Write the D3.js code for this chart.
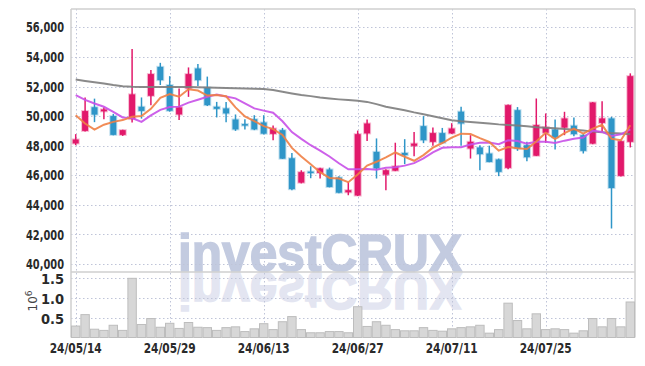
<!DOCTYPE html>
<html>
<head>
<meta charset="utf-8">
<script src="https://cdn.jsdelivr.net/npm/d3@7"></script>
<style>
  body { margin: 0; background: #fff; }
  .axis text { font-family: "DejaVu Sans Condensed", "Liberation Sans Narrow", sans-serif; font-stretch: condensed; font-size: 14.5px; font-weight: bold; fill: #2a2a2a; }
</style>
</head>
<body>
<script>
// trading days shown on the chart
const dates = [
  "2024-05-14", "2024-05-16", "2024-05-17", "2024-05-20", "2024-05-21", "2024-05-22", "2024-05-23", "2024-05-24", "2024-05-27", "2024-05-28",
  "2024-05-29", "2024-05-30", "2024-05-31", "2024-06-03", "2024-06-04", "2024-06-05", "2024-06-07", "2024-06-10", "2024-06-11", "2024-06-12",
  "2024-06-13", "2024-06-14", "2024-06-17", "2024-06-18", "2024-06-19", "2024-06-20", "2024-06-21", "2024-06-24", "2024-06-25", "2024-06-26",
  "2024-06-27", "2024-06-28", "2024-07-01", "2024-07-02", "2024-07-03", "2024-07-04", "2024-07-05", "2024-07-08", "2024-07-09", "2024-07-10",
  "2024-07-11", "2024-07-12", "2024-07-15", "2024-07-16", "2024-07-17", "2024-07-18", "2024-07-19", "2024-07-22", "2024-07-23", "2024-07-24",
  "2024-07-25", "2024-07-26", "2024-07-29", "2024-07-30", "2024-07-31", "2024-08-01", "2024-08-02", "2024-08-05", "2024-08-06", "2024-08-07"
];

const openPrices = [48150, 49000, 50600, 50320, 50000, 48730, 49800, 50630, 51370, 53330,
  52100, 50110, 51870, 53220, 51930, 50630, 50520, 49770, 49460, 49790,
  49570, 48800, 49050, 47150, 45500, 46250, 46160, 46390, 45850, 44850,
  44630, 48830, 47580, 46040, 46310, 47510, 47990, 49320, 48260, 48850,
  48830, 50300, 47810, 47880, 47470, 47070, 46500, 50400, 48030, 47320,
  48870, 49100, 49220, 49350, 48710, 48140, 49540, 49840, 45960, 48260];

const highPrices = [48780, 51260, 51180, 50590, 50150, 49080, 54530, 51260, 53110, 53600,
  52700, 51870, 53290, 53520, 52670, 50960, 50960, 50110, 49790, 50060,
  50060, 49370, 49200, 47510, 46340, 46610, 46500, 46520, 45940, 45550,
  49020, 49770, 48490, 46410, 48200, 48440, 48930, 50000, 49230, 49200,
  49520, 50630, 48710, 48030, 48000, 47130, 50780, 50610, 48270, 51190,
  50180, 49770, 50290, 49910, 48780, 50950, 51010, 49950, 48330, 52890];

const lowPrices = [48030, 48950, 49590, 49790, 48700, 48660, 49570, 49830, 50740, 52100,
  50300, 49730, 51300, 52030, 50680, 49910, 49590, 49000, 49100, 49050,
  48760, 48370, 47100, 44990, 45450, 45800, 45780, 45180, 44790, 44650,
  44600, 48320, 45780, 44990, 46280, 46750, 47290, 48170, 48000, 48150,
  48800, 48000, 47130, 46340, 46880, 45940, 46400, 47650, 46950, 47300,
  48190, 47740, 48710, 48640, 47470, 48100, 48930, 42400, 45920, 47880];

const closePrices = [48420, 50340, 50100, 50450, 48730, 49050, 51470, 50350, 52840, 52430,
  50360, 50590, 52840, 52430, 50740, 50490, 50180, 49100, 49410, 49100,
  48810, 49160, 47120, 45060, 46210, 46180, 46460, 45210, 44820, 44990,
  48780, 49500, 46460, 46340, 46610, 47360, 48140, 48370, 48850, 48190,
  49160, 49500, 48260, 47430, 46900, 46230, 50740, 47810, 47220, 49390,
  49250, 48560, 49840, 48780, 47650, 50920, 49840, 45140, 48300, 52700];

const volumes = [290000, 580000, 210000, 180000, 310000, 180000, 1500000, 330000, 480000, 260000,
  360000, 230000, 380000, 260000, 250000, 180000, 250000, 270000, 150000, 220000,
  350000, 200000, 400000, 530000, 200000, 120000, 120000, 150000, 150000, 120000,
  780000, 280000, 400000, 310000, 200000, 170000, 170000, 250000, 180000, 160000,
  220000, 250000, 270000, 310000, 110000, 200000, 870000, 430000, 220000, 600000,
  200000, 220000, 200000, 110000, 170000, 480000, 270000, 480000, 270000, 900000];

// moving averages (short, mid, long)
const maShort = [50050, 49500, 49080, 49420, 49610, 49730, 49960, 50010, 50490, 51230,
  51490, 51310, 51810, 51730, 51390, 51420, 51340, 50590, 49980, 49660,
  49320, 49120, 48720, 47850, 47270, 46750, 46210, 45820, 45780, 45530,
  46050, 46660, 46910, 47210, 47540, 47250, 46980, 47360, 47870, 48180,
  48540, 48810, 48790, 48510, 48250, 47660, 47910, 47820, 47780, 48280,
  48880, 48450, 48850, 49160, 48820, 49150, 49410, 48470, 48370, 49380];

const maMid = [51420, 51100, 50850, 50630, 50290, 49910, 49870, 49610, 50050, 50420,
  50610, 50640, 50910, 51110, 51310, 51450, 51330, 51200, 50860, 50520,
  50370, 50230, 49650, 48920, 48460, 48030, 47660, 47270, 46810, 46400,
  46400, 46430, 46370, 46500, 46540, 46650, 46820, 47140, 47540, 47860,
  47900, 47900, 48080, 48190, 48220, 48100, 48360, 48310, 48140, 48260,
  48270, 48180, 48340, 48470, 48550, 49020, 48930, 48660, 48770, 49100];

const maLong = [52480, 52380, 52290, 52200, 52100, 52020, 51980, 51970, 51970, 51970,
  51970, 51970, 51960, 51950, 51940, 51920, 51900, 51880, 51870, 51850,
  51830, 51760, 51640, 51530, 51420, 51350, 51260, 51190, 51130, 51080,
  51030, 50960, 50810, 50630, 50520, 50400, 50250, 50120, 49990, 49860,
  49720, 49650, 49600, 49550, 49500, 49440, 49400, 49360, 49320, 49250,
  49210, 49170, 49130, 49080, 49020, 48950, 48900, 48850, 48820, 48780];

const priceTicks = [40000, 42000, 44000, 46000, 48000, 50000, 52000, 54000, 56000];
const volumeTicks = [500000, 1000000, 1500000];
const dateTicks = dates.filter((d, i) => i % 10 === 0);

document.addEventListener("DOMContentLoaded", function () {
  const width = 645;
  const height = 366;
  const left = 71, right = 635, top = 9, priceBottom = 272, volBottom = 337.5;

  const upColor = "#e2196b";
  const downColor = "#2f96c8";
  const gridColor = "#bfc4d8";

  const svg = d3.select("body")
    .append("svg")
    .attr("width", width)
    .attr("height", height);

  const x = d3.scaleBand().domain(dates).range([left, right]);
  const cx = d => x(d) + x.bandwidth() / 2;
  const y = d3.scaleLinear().domain([39460, 57240]).range([priceBottom, top]);
  const yv = d3.scaleLinear().domain([0, 1660000]).range([volBottom, priceBottom]);

  // watermark + reflection
  const wm = svg.append("g");
  wm.append("text")
    .attr("x", 178)
    .attr("y", 271)
    .attr("font-family", "Liberation Sans, Arial, sans-serif")
    .attr("font-weight", "bold")
    .attr("font-size", 51)
    .attr("textLength", 284)
    .attr("lengthAdjust", "spacingAndGlyphs")
    .attr("fill", "#c3cbe0")
    .attr("stroke", "#c3cbe0")
    .attr("stroke-width", 1.5)
    .text("investCRUX");
  wm.append("text")
    .attr("x", 178)
    .attr("y", 271)
    .attr("transform", `translate(0,${priceBottom * 2}) scale(1,-1)`)
    .attr("font-family", "Liberation Sans, Arial, sans-serif")
    .attr("font-weight", "bold")
    .attr("font-size", 51)
    .attr("textLength", 284)
    .attr("lengthAdjust", "spacingAndGlyphs")
    .attr("fill", "#e3e5f1")
    .attr("stroke", "#e3e5f1")
    .attr("stroke-width", 1.5)
    .text("investCRUX");

  // grid
  const grid = svg.append("g")
    .attr("stroke", gridColor)
    .attr("stroke-width", 1)
    .attr("stroke-dasharray", "1.5,2.5");

  grid.selectAll(".vgrid")
    .data(dateTicks)
    .enter()
    .append("line")
    .attr("x1", d => Math.round(cx(d)) + 0.5)
    .attr("x2", d => Math.round(cx(d)) + 0.5)
    .attr("y1", top)
    .attr("y2", volBottom);

  grid.selectAll(".hgrid")
    .data(priceTicks)
    .enter()
    .append("line")
    .attr("x1", left)
    .attr("x2", right)
    .attr("y1", d => Math.round(y(d)) + 0.5)
    .attr("y2", d => Math.round(y(d)) + 0.5);

  grid.selectAll(".vhgrid")
    .data(volumeTicks)
    .enter()
    .append("line")
    .attr("x1", left)
    .attr("x2", right)
    .attr("y1", d => Math.round(yv(d)) + 0.5)
    .attr("y2", d => Math.round(yv(d)) + 0.5);

  // frame
  const frame = svg.append("g").attr("stroke", "#cfcfcf").attr("stroke-width", 1.5);
  frame.append("line").attr("x1", left).attr("x2", right).attr("y1", top).attr("y2", top);
  frame.append("line").attr("x1", left).attr("x2", left).attr("y1", top).attr("y2", volBottom);
  frame.append("line").attr("x1", right).attr("x2", right).attr("y1", top).attr("y2", volBottom);
  frame.append("line").attr("x1", left).attr("x2", right).attr("y1", priceBottom).attr("y2", priceBottom);

  // volume bars
  svg.append("g")
    .selectAll("rect")
    .data(volumes)
    .enter()
    .append("rect")
    .attr("x", (d, i) => x(dates[i]) + 0.5)
    .attr("width", x.bandwidth() - 1)
    .attr("y", d => yv(d))
    .attr("height", d => volBottom - yv(d))
    .attr("fill", "#d7d7d7")
    .attr("stroke", "#bdbdbd")
    .attr("stroke-width", 1);

  // candles
  const candles = svg.append("g")
    .selectAll("g")
    .data(dates)
    .enter()
    .append("g");

  const colorOf = i => closePrices[i] >= openPrices[i] ? upColor : downColor;

  candles.append("line")
    .attr("x1", d => cx(d))
    .attr("x2", d => cx(d))
    .attr("y1", (d, i) => y(highPrices[i]))
    .attr("y2", (d, i) => y(lowPrices[i]))
    .attr("stroke", (d, i) => colorOf(i))
    .attr("stroke-width", 1.5);

  candles.append("rect")
    .attr("x", d => cx(d) - 3)
    .attr("width", 6)
    .attr("y", (d, i) => y(Math.max(openPrices[i], closePrices[i])))
    .attr("height", (d, i) => Math.max(1.5, Math.abs(y(openPrices[i]) - y(closePrices[i]))))
    .attr("fill", (d, i) => colorOf(i))
    .attr("stroke", (d, i) => colorOf(i))
    .attr("stroke-opacity", 0.3)
    .attr("stroke-width", 2);

  // moving average lines
  const line = d3.line()
    .x((d, i) => cx(dates[i]))
    .y(d => y(d));

  [[maLong, "#7d7d7d"], [maMid, "#c850e8"], [maShort, "#ef7f45"]].forEach(([series, color]) => {
    svg.append("path")
      .datum(series)
      .attr("fill", "none")
      .attr("stroke", color)
      .attr("stroke-opacity", 0.9)
      .attr("stroke-width", 2)
      .attr("d", line);
  });

  // axes
  const yAxis = svg.append("g")
    .attr("class", "axis")
    .attr("transform", `translate(${left},0)`)
    .call(d3.axisLeft(y).tickValues(priceTicks).tickFormat(d3.format(",")).tickSize(0).tickPadding(7));
  yAxis.select(".domain").remove();
  yAxis.selectAll("text")
    .attr("textLength", 38)
    .attr("lengthAdjust", "spacingAndGlyphs");

  const vAxis = svg.append("g")
    .attr("class", "axis")
    .attr("transform", `translate(${left},0)`)
    .call(d3.axisLeft(yv).tickValues(volumeTicks).tickFormat(d => (d / 1e6).toFixed(1)).tickSize(0).tickPadding(7));
  vAxis.select(".domain").remove();
  vAxis.selectAll("text").attr("dy", "0.38em");

  const fmt = d3.timeFormat("%y/%m/%d");
  const parse = d3.timeParse("%Y-%m-%d");
  const xAxis = svg.append("g")
    .attr("class", "axis")
    .attr("transform", `translate(0,${volBottom})`)
    .call(d3.axisBottom(x).tickValues(dateTicks).tickFormat(d => fmt(parse(d))).tickSize(0).tickPadding(5));
  xAxis.select(".domain").remove();
  xAxis.selectAll("text")
    .attr("textLength", 52)
    .attr("lengthAdjust", "spacingAndGlyphs");

  // volume unit label
  const unit = svg.append("text")
    .attr("transform", "translate(37,301) rotate(-90)")
    .attr("text-anchor", "middle")
    .attr("font-family", "DejaVu Sans, sans-serif")
    .attr("font-size", 12)
    .attr("fill", "#444");
  unit.append("tspan").text("10");
  unit.append("tspan").attr("dy", -5).attr("font-size", 9).text("6");
});
</script>
</body>
</html>
